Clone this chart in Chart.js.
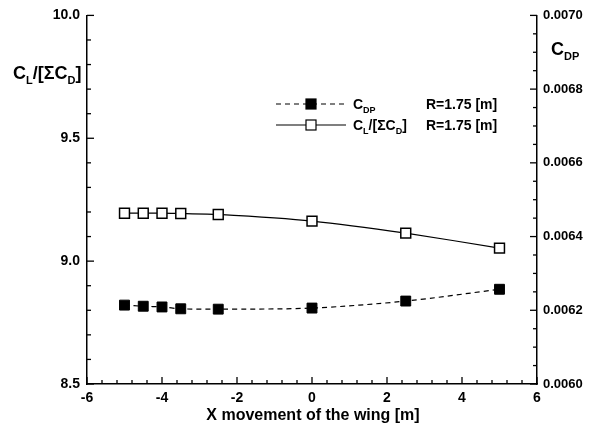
<!DOCTYPE html>
<html>
<head>
<meta charset="utf-8">
<script src="https://cdn.jsdelivr.net/npm/chart.js@4.4.1/dist/chart.umd.min.js"></script>
<style>
  html, body { margin: 0; padding: 0; background: #fff; }
  #wrap { width: 599px; height: 434px; }
</style>
</head>
<body>
<div id="wrap"><canvas id="cdpChart" width="599" height="434"></canvas></div>
<script>
// x positions of the wing (m)
const xMove = [-5, -4.5, -4, -3.5, -2.5, 0, 2.5, 5];
// C_L / [sum C_D], left axis
const clOverCd = [9.195, 9.195, 9.195, 9.194, 9.19, 9.163, 9.114, 9.053];
// C_DP, right axis
const cdp = [0.006214, 0.006211, 0.006209, 0.006204, 0.006203, 0.006206, 0.006225, 0.006257];

const FONT = '"Liberation Sans", Arial, Helvetica, sans-serif';

function pts(ys) {
  return xMove.map((x, i) => ({ x: x, y: ys[i] }));
}

// text with subscript pieces, returns end x
function subText(ctx, parts, x, y, size) {
  ctx.textBaseline = 'alphabetic';
  ctx.textAlign = 'left';
  parts.forEach(p => {
    if (p.sub) {
      ctx.font = 'bold ' + Math.round(size * 0.62) + 'px ' + FONT;
      ctx.fillText(p.t, x, y + size * 0.28);
    } else {
      ctx.font = 'bold ' + size + 'px ' + FONT;
      ctx.fillText(p.t, x, y);
    }
    x += ctx.measureText(p.t).width;
  });
  return x;
}

const decorPlugin = {
  id: 'decor',
  afterDraw(chart) {
    const ctx = chart.ctx;
    const { left, right, bottom } = chart.chartArea;
    const sx = chart.scales.x, sy = chart.scales.y, sy2 = chart.scales.y2;
    ctx.save();
    ctx.strokeStyle = '#000';
    ctx.fillStyle = '#000';
    ctx.lineWidth = 1.3;

    // inward tick marks
    function tick(x1, y1, x2, y2) {
      ctx.beginPath(); ctx.moveTo(x1, y1); ctx.lineTo(x2, y2); ctx.stroke();
    }
    for (let v = -6; v <= 6.001; v += 0.4) {
      const px = sx.getPixelForValue(v);
      const major = Math.abs(v / 2 - Math.round(v / 2)) < 0.01;
      tick(px, bottom, px, bottom - (major ? 7 : 4));
    }
    for (let v = 8.5; v <= 10.001; v += 0.1) {
      const py = sy.getPixelForValue(v);
      const major = Math.abs(v / 0.5 - Math.round(v / 0.5)) < 0.01;
      tick(left, py, left + (major ? 7 : 4), py);
    }
    for (let v = 0.006; v <= 0.00700001; v += 0.00005) {
      const py = sy2.getPixelForValue(v);
      const major = Math.abs(v / 0.0002 - Math.round(v / 0.0002)) < 0.01;
      tick(right, py, right - (major ? 7 : 4), py);
    }

    // axis titles
    subText(ctx, [{ t: 'C' }, { t: 'L', sub: true }, { t: '/[ΣC' }, { t: 'D', sub: true }, { t: ']' }], 13, 79, 18);
    subText(ctx, [{ t: 'C' }, { t: 'DP', sub: true }], 551, 55, 18);
    ctx.font = 'bold 16px ' + FONT;
    ctx.textAlign = 'center';
    ctx.textBaseline = 'middle';
    ctx.fillText('X movement of the wing [m]', 313, 416);

    // legend
    const rows = [
      { y: 104, dash: [5, 4], fill: '#000', label: [{ t: 'C' }, { t: 'DP', sub: true }] },
      { y: 125, dash: [], fill: '#fff', label: [{ t: 'C' }, { t: 'L', sub: true }, { t: '/[ΣC' }, { t: 'D', sub: true }, { t: ']' }] }
    ];
    rows.forEach(r => {
      ctx.setLineDash(r.dash);
      ctx.lineWidth = 1.2;
      tick(276, r.y, 346, r.y);
      ctx.setLineDash([]);
      ctx.fillStyle = r.fill;
      ctx.fillRect(306, r.y - 5, 10, 10);
      ctx.strokeRect(306, r.y - 5, 10, 10);
      ctx.fillStyle = '#000';
      subText(ctx, r.label, 353, r.y + 5, 14);
      ctx.font = 'bold 14px ' + FONT;
      ctx.textAlign = 'left';
      ctx.fillText('R=1.75 [m]', 426, r.y + 5);
    });
    ctx.restore();
  }
};

new Chart(document.getElementById('cdpChart'), {
  type: 'line',
  data: {
    datasets: [
      {
        label: 'CDP',
        data: pts(cdp),
        yAxisID: 'y2',
        borderColor: '#000',
        borderWidth: 1.2,
        borderDash: [5, 4],
        tension: 0.3,
        pointStyle: 'rect',
        pointRadius: 7,
        pointBackgroundColor: '#000',
        pointBorderColor: '#000',
        pointBorderWidth: 1
      },
      {
        label: 'CL/[sum CD]',
        data: pts(clOverCd),
        yAxisID: 'y',
        borderColor: '#000',
        borderWidth: 1.2,
        tension: 0.2,
        pointStyle: 'rect',
        pointRadius: 7,
        pointBackgroundColor: '#fff',
        pointBorderColor: '#000',
        pointBorderWidth: 1.5
      }
    ]
  },
  options: {
    responsive: false,
    animation: false,
    layout: { padding: { top: 15, left: 0, right: 0, bottom: 0 } },
    plugins: { legend: { display: false }, tooltip: { enabled: false } },
    scales: {
      x: {
        type: 'linear', min: -6, max: 6,
        grid: { display: false, drawTicks: false },
        border: { display: true, color: '#000', width: 1.5 },
        ticks: { stepSize: 2, padding: 6, color: '#000', font: { family: FONT, size: 14, weight: 'bold' } },
        afterFit(s) { s.height = 50; }
      },
      y: {
        position: 'left', min: 8.5, max: 10,
        grid: { display: false, drawTicks: false },
        border: { display: true, color: '#000', width: 1.5 },
        ticks: { stepSize: 0.5, padding: 7, color: '#000', font: { family: FONT, size: 14, weight: 'bold' },
          callback: v => v.toFixed(1) },
        afterFit(s) { s.width = 87; }
      },
      y2: {
        position: 'right', min: 0.006, max: 0.007,
        grid: { display: false, drawTicks: false },
        border: { display: true, color: '#000', width: 1.5 },
        ticks: { stepSize: 0.0002, padding: 6, color: '#000', font: { family: FONT, size: 13, weight: 'bold' },
          callback: v => v.toFixed(4) },
        afterFit(s) { s.width = 62; }
      }
    }
  },
  plugins: [decorPlugin]
});
</script>
</body>
</html>
